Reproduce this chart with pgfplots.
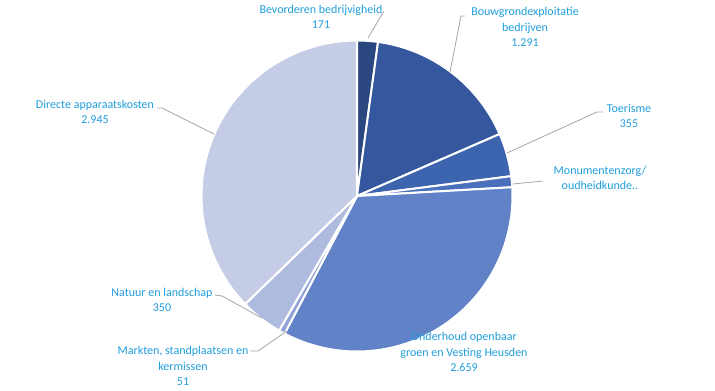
\documentclass[border=0pt]{standalone}
\usepackage{pgfplots}
\usepackage{pgfplotstable}
\pgfplotsset{compat=1.18}
\usepackage{fontspec}
\setmainfont{Carlito}
\definecolor{lbl}{RGB}{31,157,219}
\definecolor{lead}{RGB}{166,166,166}
\definecolor{s0}{RGB}{43,71,128}
\definecolor{s1}{RGB}{52,87,158}
\definecolor{s2}{RGB}{61,100,174}
\definecolor{s3}{RGB}{74,112,188}
\definecolor{s4}{RGB}{98,130,200}
\definecolor{s5}{RGB}{143,163,216}
\definecolor{s6}{RGB}{175,186,223}
\definecolor{s7}{RGB}{197,205,230}
\tikzset{lab/.style={font=\fontsize{9}{11.4}\selectfont, text=lbl, align=center, inner sep=0pt}}
\pgfplotstableread[col sep=comma]{
label,value
Bevorderen bedrijvigheid,171
Bouwgrondexploitatie bedrijven,1291
Toerisme,355
Monumentenzorg/oudheidkunde,90
Onderhoud openbaar groen en Vesting Heusden,2659
Markten standplaatsen en kermissen,51
Natuur en landschap,350
Directe apparaatskosten,2945
}\piedata
\begin{document}
\begin{tikzpicture}
\gdef\total{0}
\foreach \i in {0,...,7}{%
  \pgfplotstablegetelem{\i}{value}\of\piedata
  \pgfmathsetmacro\tmp{\total+\pgfplotsretval}%
  \xdef\total{\tmp}%
}
\begin{axis}[
  width=536.25pt, height=292.5pt, scale only axis,
  xmin=0, xmax=715, ymin=0, ymax=390, y dir=reverse,
  hide axis, clip=false,
]
\path (rel axis cs:0,0) rectangle (rel axis cs:1,1);
\gdef\cum{0}
\pgfplotsforeachungrouped \i in {0,...,7}{%
  \pgfplotstablegetelem{\i}{value}\of\piedata
  \pgfmathsetmacro\frac{\pgfplotsretval/\total}%
  \pgfmathsetmacro\a{\cum}%
  \pgfmathsetmacro\b{\cum+360*\frac}%
  \xdef\cum{\b}%
  \edef\cmd{\noexpand\addplot[fill=s\i, draw=white, line width=1.5pt, line join=round, domain=\a:\b, samples=80] ({357+155.5*sin(x)},{196-155.5*cos(x)}) -- (axis cs:357,196) -- cycle;}%
  \cmd
}
% leader lines
\draw[lead, line width=0.6pt] (axis cs:384,11) -- (axis cs:368,38);
\draw[lead, line width=0.6pt] (axis cs:465,16) -- (axis cs:461,16) -- (axis cs:450,72);
\draw[lead, line width=0.6pt] (axis cs:603,112) -- (axis cs:597,112) -- (axis cs:507,153);
\draw[lead, line width=0.6pt] (axis cs:543,181) -- (axis cs:513,184);
\draw[lead, line width=0.6pt] (axis cs:250,351) -- (axis cs:258,351) -- (axis cs:287,331);
\draw[lead, line width=0.6pt] (axis cs:215,295) -- (axis cs:222,296) -- (axis cs:262,318);
\draw[lead, line width=0.6pt] (axis cs:157,108) -- (axis cs:162,108) -- (axis cs:214,134);
% labels
\node[lab] at (axis cs:321,17) {Bevorderen bedrijvigheid\\171};
\node[lab] at (axis cs:525,27) {Bouwgrondexploitatie\\bedrijven\\1.291};
\node[lab] at (axis cs:629,116) {Toerisme\\355};
\node[lab] at (axis cs:600,178) {Monumentenzorg/\\oudheidkunde..};
\node[lab] at (axis cs:464,352) {Onderhoud openbaar\\groen en Vesting Heusden\\2.659};
\node[lab] at (axis cs:183,366) {Markten, standplaatsen en\\kermissen\\51};
\node[lab] at (axis cs:162,300) {Natuur en landschap\\350};
\node[lab] at (axis cs:95,112) {Directe apparaatskosten\\2.945};
\end{axis}
\end{tikzpicture}
\end{document}
